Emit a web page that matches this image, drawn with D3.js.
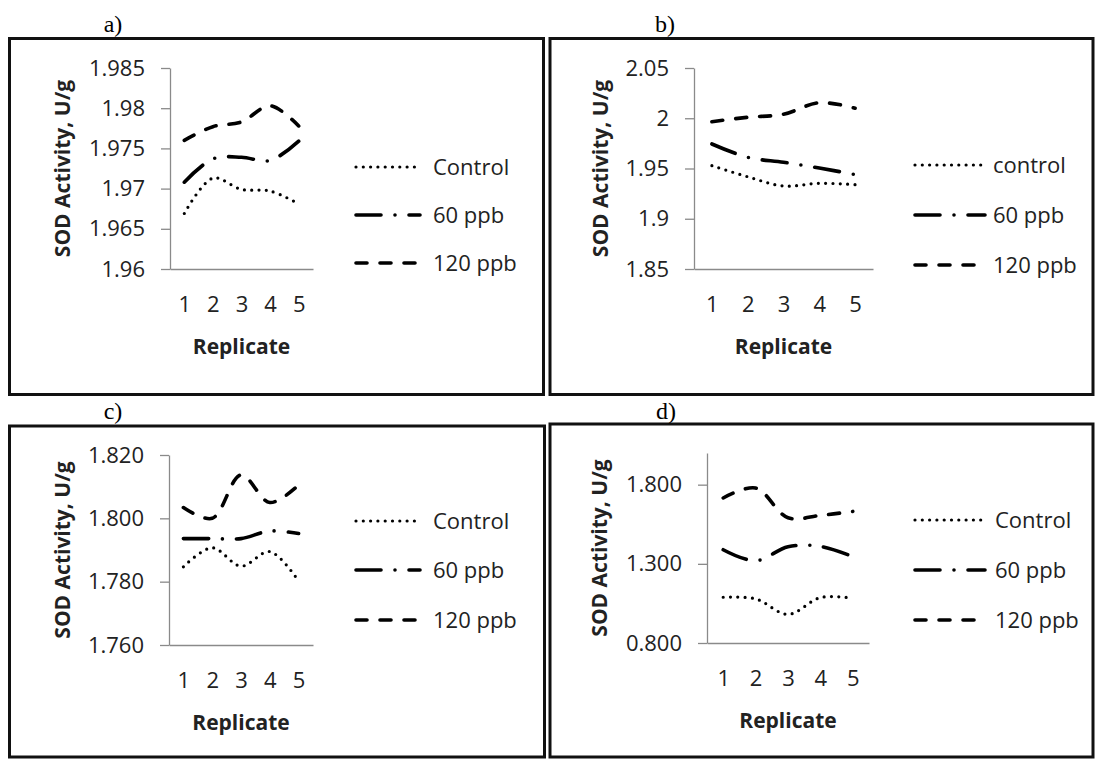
<!DOCTYPE html>
<html>
<head>
<meta charset="utf-8">
<script src="https://cdn.jsdelivr.net/npm/d3@7"></script>
<style>
body { margin: 0; background: #fff; }
svg text { font-family: "Open Sans", sans-serif; fill: #222; }
</style>
</head>
<body>
<svg id="fig" width="1097" height="760"></svg>
<script>
var replicates = [1, 2, 3, 4, 5];
var seriesKeys = ["control", "60ppb", "120ppb"];

// panel a
var a_control = [1.9669, 1.9713, 1.9699, 1.9697, 1.9681];
var a_60ppb   = [1.9708, 1.9737, 1.9739, 1.9735, 1.9759];
var a_120ppb  = [1.9760, 1.9777, 1.9783, 1.9803, 1.9778];
var a_ticks = [1.96, 1.965, 1.97, 1.975, 1.98, 1.985];
var a_tickLabels = ["1.96", "1.965", "1.97", "1.975", "1.98", "1.985"];
var a_legend = ["Control", "60 ppb", "120 ppb"];

// panel b
var b_control = [1.9528, 1.9418, 1.9326, 1.9353, 1.9339];
var b_60ppb   = [1.9744, 1.9611, 1.9562, 1.9505, 1.9440];
var b_120ppb  = [1.9966, 2.0010, 2.0040, 2.0155, 2.0100];
var b_ticks = [1.85, 1.9, 1.95, 2, 2.05];
var b_tickLabels = ["1.85", "1.9", "1.95", "2", "2.05"];
var b_legend = ["control", "60 ppb", "120 ppb"];

// panel c
var c_control = [1.7847, 1.7907, 1.7849, 1.7895, 1.7802];
var c_60ppb   = [1.7936, 1.7936, 1.7936, 1.7960, 1.7952];
var c_120ppb  = [1.8034, 1.8000, 1.8137, 1.8050, 1.8105];
var c_ticks = [1.76, 1.78, 1.80, 1.82];
var c_tickLabels = ["1.760", "1.780", "1.800", "1.820"];
var c_legend = ["Control", "60 ppb", "120 ppb"];

// panel d
var d_control = [1.089, 1.079, 0.981, 1.087, 1.083];
var d_60ppb   = [1.389, 1.319, 1.408, 1.410, 1.346];
var d_120ppb  = [1.716, 1.779, 1.591, 1.606, 1.631];
var d_ticks = [0.8, 1.3, 1.8];
var d_tickLabels = ["0.800", "1.300", "1.800"];
var d_legend = ["Control", "60 ppb", "120 ppb"];

var yTitle = "SOD Activity, U/g";
var xTitle = "Replicate";

// line styles per series
var styles = {
    "control": {dash: "0,7.3", width: 3.2},
    "60ppb":   {dash: "25,14,0,14", width: 3.6},
    "120ppb":  {dash: "11,13", width: 3.6}
};

var svg = d3.select("#fig");

// frames + letters
var frames = [
    {x: 9.5, y: 38.5, w: 534, h: 356, tag: "a)", tx: 113, ty: 32},
    {x: 550, y: 38.5, w: 543, h: 356, tag: "b)", tx: 665, ty: 32},
    {x: 9.5, y: 426, w: 535, h: 331, tag: "c)", tx: 113, ty: 419},
    {x: 550, y: 424, w: 543, h: 333, tag: "d)", tx: 666, ty: 419}
];

frames.forEach(function(f) {
    svg.append("rect")
        .attr("x", f.x).attr("y", f.y)
        .attr("width", f.w).attr("height", f.h)
        .attr("fill", "none")
        .attr("stroke", "#111")
        .attr("stroke-width", 3);
    svg.append("text")
        .attr("x", f.tx).attr("y", f.ty)
        .attr("text-anchor", "middle")
        .style("font-family", "'Liberation Serif', serif")
        .style("font-size", "24px")
        .style("fill", "#000")
        .text(f.tag);
});

var panels = [
    {series: {"control": a_control, "60ppb": a_60ppb, "120ppb": a_120ppb},
     ticks: a_ticks, labels: a_tickLabels, legend: a_legend,
     domain: [1.96, 1.985], left: 170, right: 313, top: 68, bottom: 269,
     titleX: 63, legX: 356, legLen: 64, legGap: 13, legY: [167, 215, 263]},
    {series: {"control": b_control, "60ppb": b_60ppb, "120ppb": b_120ppb},
     ticks: b_ticks, labels: b_tickLabels, legend: b_legend,
     domain: [1.85, 2.05], left: 694, right: 873, top: 68, bottom: 269,
     titleX: 601, legX: 915, legLen: 70, legGap: 8, legY: [165, 215, 265]},
    {series: {"control": c_control, "60ppb": c_60ppb, "120ppb": c_120ppb},
     ticks: c_ticks, labels: c_tickLabels, legend: c_legend,
     domain: [1.76, 1.82], left: 169, right: 313, top: 455, bottom: 645,
     titleX: 63, legX: 356, legLen: 64, legGap: 13, legY: [521, 570, 620]},
    {series: {"control": d_control, "60ppb": d_60ppb, "120ppb": d_120ppb},
     ticks: d_ticks, labels: d_tickLabels, legend: d_legend,
     domain: [0.8, 2.0], left: 707, right: 869, top: 453, bottom: 643,
     titleX: 600, legX: 915, legLen: 70, legGap: 10, legY: [520, 570, 620]}
];

panels.forEach(drawPanel);

function drawPanel(p) {
    var g = svg.append("g");

    var xScale = d3.scalePoint()
        .domain(replicates)
        .range([p.left, p.right])
        .padding(0.5);

    var yScale = d3.scaleLinear()
        .domain(p.domain)
        .range([p.bottom, p.top]);

    var yAxis = d3.axisLeft(yScale)
        .tickValues(p.ticks)
        .tickFormat(function(d, i) { return p.labels[i]; })
        .tickSize(9)
        .tickSizeOuter(0)
        .tickPadding(16);

    var xAxis = d3.axisBottom(xScale)
        .tickSize(0)
        .tickSizeOuter(0)
        .tickPadding(27);

    var ya = g.append("g")
        .attr("transform", "translate(" + p.left + ",0)")
        .call(yAxis);
    var xa = g.append("g")
        .attr("transform", "translate(0," + p.bottom + ")")
        .call(xAxis);

    [ya, xa].forEach(function(ax) {
        ax.select(".domain").attr("stroke", "#8a8a8a").attr("stroke-width", 1.3);
        ax.selectAll(".tick line").attr("stroke", "#8a8a8a").attr("stroke-width", 1.3);
        ax.selectAll("text")
            .style("font-family", "'Open Sans', sans-serif")
            .style("font-size", "22px")
            .attr("fill", "#222");
    });

    // axis titles
    g.append("text")
        .attr("transform", "translate(" + p.titleX + "," + ((p.top + p.bottom) / 2) + ") rotate(-90)")
        .attr("text-anchor", "middle")
        .attr("dy", "0.35em")
        .style("font-size", "21px")
        .style("font-weight", "700")
        .text(yTitle);

    g.append("text")
        .attr("x", (p.left + p.right) / 2)
        .attr("y", p.bottom + 85)
        .attr("text-anchor", "middle")
        .style("font-size", "21px")
        .style("font-weight", "700")
        .text(xTitle);

    var line = d3.line()
        .x(function(d, i) { return xScale(replicates[i]); })
        .y(function(d) { return yScale(d); })
        .curve(d3.curveCatmullRom.alpha(0.5));

    seriesKeys.forEach(function(k, i) {
        var st = styles[k];
        g.append("path")
            .datum(p.series[k])
            .attr("d", line)
            .attr("fill", "none")
            .attr("stroke", "#000")
            .attr("stroke-width", st.width)
            .attr("stroke-linecap", "round")
            .attr("stroke-dasharray", st.dash);

        // legend entry
        g.append("line")
            .attr("x1", p.legX).attr("x2", p.legX + p.legLen)
            .attr("y1", p.legY[i]).attr("y2", p.legY[i])
            .attr("stroke", "#000")
            .attr("stroke-width", st.width)
            .attr("stroke-linecap", "round")
            .attr("stroke-dasharray", st.dash);
        g.append("text")
            .attr("x", p.legX + p.legLen + p.legGap)
            .attr("y", p.legY[i])
            .attr("dy", "0.35em")
            .style("font-size", "22px")
            .text(p.legend[i]);
    });
}
</script>
</body>
</html>
